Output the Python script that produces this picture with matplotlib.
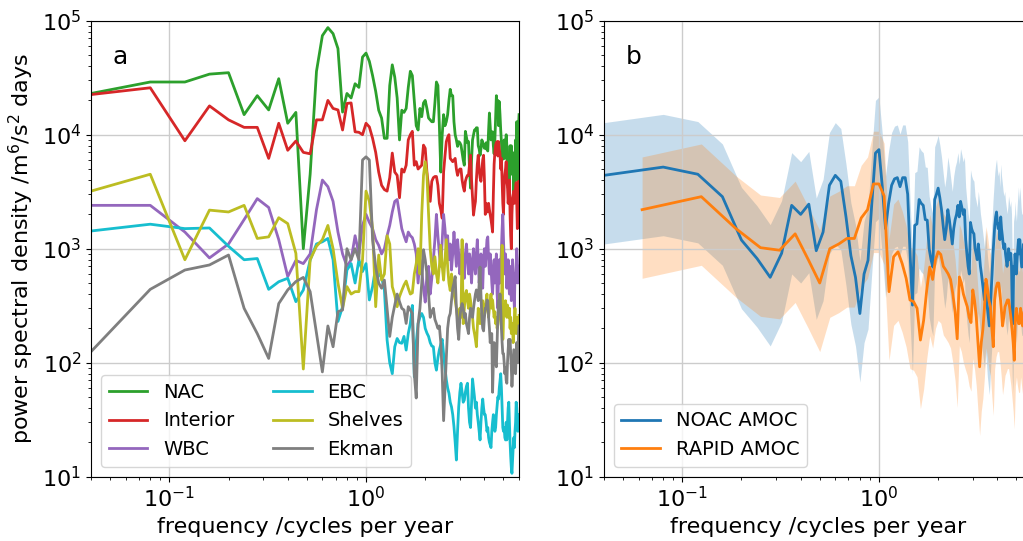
import matplotlib
matplotlib.use("Agg")
import matplotlib.pyplot as plt
import numpy as np

# record lengths (years) of the monthly series -> frequency grids
NOAC_YEARS = 25
RAPID_YEARS = 16

# panel a: power spectral density of transport components
nac = [23000, 29000, 29000, 34000, 35000, 15000, 22000, 16500, 31000, 12600,
       15700, 1000, 4500, 36000, 74000, 87000, 77000, 57000, 15800, 23000,
       21000, 28000, 26000, 48000, 52000, 44000, 33000, 24000, 16400, 14000,
       9300, 9300, 27000, 41000, 32000, 21000, 9000, 16400, 15700, 17000,
       26000, 36000, 33000, 20000, 12000, 11000, 17000, 14400, 19000, 20000,
       17000, 14000, 13500, 13000, 13000, 19000, 29000, 27000, 12000, 4700,
       10000, 15000, 12000, 13000, 15000, 20000, 25000, 22000, 22000, 13000,
       10000, 9000, 7900, 8700, 8500, 8100, 7000, 6000, 5400, 10700,
       9500, 8500, 8700, 5000, 3400, 6000, 9000, 10000, 11000, 11000,
       11500, 11500, 8000, 7500, 6600, 7500, 9000, 8600, 8000, 7600,
       7600, 8500, 7400, 7200, 11000, 15500, 12000, 9000, 10600, 10600,
       8000, 6800, 9000, 14000, 22000, 17000, 20000, 12000, 19500, 15000,
       11000, 8600, 6000, 7500, 6200, 9000, 6200, 8000, 10000, 8000,
       5000, 3400, 6000, 3400, 8000, 5000, 8000, 4500, 7000, 5000,
       3000, 6000, 3000, 9000, 5000, 13000, 7000, 4000, 12000, 15000]

interior = [22500, 25800, 8850, 17900, 13500, 11600, 11600, 6200, 12600, 7300,
            8800, 7000, 6800, 13500, 13500, 20000, 17000, 16500, 11000, 18800,
            19000, 10600, 10500, 10000, 12600, 11700, 9300, 7000, 4700, 3600,
            3300, 3200, 4200, 6900, 4700, 4400, 2800, 5000, 4700, 5400,
            9000, 10000, 10700, 5400, 5800, 5000, 5200, 5400, 8100, 7600,
            4700, 3500, 2600, 3900, 4200, 4300, 4300, 3600, 2500, 2200,
            1850, 4700, 6500, 8700, 9500, 10000, 6200, 6000, 5800, 6000,
            6200, 5000, 4400, 4800, 5000, 5000, 4000, 3500, 3200, 3900,
            4200, 4400, 4400, 5500, 6600, 4000, 2800, 1970, 2300, 2600,
            4000, 5500, 6600, 5000, 4200, 3900, 4800, 6000, 6600, 4000,
            2000, 2500, 2300, 2100, 2500, 2200, 2000, 1800, 1600, 1400,
            3000, 5500, 7000, 8100, 8500, 8700, 6500, 8700, 7500, 6800,
            5000, 6200, 4000, 2500, 2000, 3500, 4500, 5000, 5800, 4000,
            3500, 2500, 3000, 4000, 2000, 1300, 1000, 2000, 2800, 3000,
            3200, 2500, 3000, 3400, 3800, 2500, 1500, 2500, 3900, 3500]

wbc = [2400, 2400, 1400, 830, 1100, 1800, 2750, 2300, 1200, 570,
       790, 740, 900, 2200, 4000, 3500, 2600, 1400, 900, 700,
       800, 1300, 900, 1600, 2000, 1700, 1500, 1200, 1070, 900,
       1000, 1300, 1600, 2100, 2600, 2700, 2000, 1500, 1300, 1150,
       1400, 1300, 1250, 1100, 900, 500, 800, 650, 450, 340,
       600, 700, 400, 550, 800, 1200, 2000, 1300, 900, 700,
       1200, 2000, 1500, 1000, 1300, 800, 1100, 650, 900, 1400,
       1000, 700, 1200, 900, 600, 800, 1000, 700, 550, 900,
       1100, 800, 600, 900, 700, 500, 800, 1000, 700, 600,
       900, 1200, 800, 500, 700, 900, 600, 450, 800, 1000,
       700, 900, 1200, 1270, 800, 600, 900, 700, 500, 400,
       600, 800, 500, 700, 900, 400, 300, 600, 800, 500,
       700, 1000, 1500, 2000, 1200, 800, 600, 900, 700, 450,
       600, 800, 500, 400, 700, 600, 350, 500, 800, 600,
       400, 300, 600, 500, 700, 1000, 800, 500, 600, 700]

ebc = [1430, 1640, 1500, 1520, 1050, 800, 820, 440, 513, 550,
       343, 434, 795, 1100, 1150, 1230, 800, 230, 310, 650,
       740, 500, 800, 630, 740, 355, 465, 690, 600, 560,
       435, 158, 100, 80, 138, 163, 150, 148, 170, 129,
       180, 221, 318, 75, 150, 220, 250, 270, 250, 200,
       182, 170, 150, 140, 138, 100, 86, 110, 130, 145,
       160, 120, 90, 71, 60, 54, 45, 41, 35, 27.5,
       20, 14, 25, 41, 55, 66, 55, 45, 47, 55,
       62, 66, 40, 30, 27, 45, 72, 60, 50, 40,
       45, 35, 30, 25, 21, 30, 40, 48, 40, 35,
       35, 30, 25, 27, 22, 20, 19, 18, 25, 30,
       35, 28, 25, 27, 35, 42, 50, 48, 60, 70,
       80, 60, 40, 27, 25, 27, 22, 21, 30, 21,
       30, 40, 45, 30, 20, 15, 12, 10.7, 14, 18,
       22, 18, 25, 30, 45, 40, 30, 25, 30, 35]

shelves = [3200, 4500, 800, 2180, 2100, 2400, 1230, 1270, 1870, 1660,
           910, 88, 800, 1050, 1200, 1600, 1000, 500, 300, 465,
           400, 420, 420, 800, 3200, 2600, 1500, 310, 880, 530,
           600, 1300, 1100, 465, 390, 310, 380, 430, 480, 520,
           450, 400, 410, 600, 740, 1000, 600, 2000, 4400, 5800,
           4500, 2000, 1000, 700, 600, 850, 600, 500, 700, 1070,
           700, 530, 800, 1200, 700, 500, 430, 600, 500, 400,
           355, 300, 250, 200, 300, 250, 1200, 220, 300, 400,
           430, 350, 300, 400, 350, 290, 250, 200, 180, 160,
           138, 200, 300, 250, 220, 240, 280, 350, 300, 260,
           290, 350, 400, 300, 250, 300, 350, 400, 300, 355,
           300, 250, 280, 220, 250, 200, 215, 250, 300, 400,
           300, 200, 1070, 160, 250, 300, 280, 350, 300, 250,
           320, 280, 250, 300, 200, 250, 180, 220, 200, 150,
           200, 250, 300, 220, 180, 250, 220, 200, 200, 260]

ekman = [125, 440, 650, 720, 880, 300, 180, 109, 330, 435,
         515, 560, 420, 180, 83, 210, 138, 280, 290, 1000,
         800, 1000, 800, 6000, 6400, 6000, 1200, 690, 500, 450,
         530, 300, 170, 250, 320, 400, 343, 300, 290, 221,
         310, 290, 270, 80, 49, 220, 300, 500, 980, 800,
         600, 400, 250, 280, 300, 240, 220, 200, 210, 150,
         80, 31, 60, 110, 200, 250, 270, 350, 450, 500,
         570, 300, 200, 160, 250, 300, 330, 300, 250, 270,
         220, 200, 180, 250, 300, 290, 250, 300, 350, 400,
         435, 400, 350, 500, 690, 400, 250, 200, 190, 250,
         300, 300, 355, 350, 250, 200, 150, 180, 180, 55,
         100, 150, 120, 100, 92, 150, 250, 350, 300, 400,
         300, 200, 150, 120, 120, 100, 80, 90, 70, 66,
         100, 130, 160, 140, 160, 120, 90, 62, 80, 100,
         130, 110, 95, 80, 120, 150, 130, 100, 180, 210]

# panel b: AMOC spectra
noac_amoc = [4400, 5200, 4500, 2860, 1190, 820, 561, 910, 2400, 2000,
             2460, 960, 1400, 3600, 4400, 3900, 1900, 870, 560, 270,
             600, 790, 2500, 6900, 7400, 3500, 1500, 2500, 3600, 4100,
             4200, 3500, 4200, 4200, 3000, 900, 320, 1600, 1650, 2700,
             2500, 2400, 1800, 1780, 1000, 800, 690, 2700, 3000, 3400,
             2800, 2200, 1600, 1200, 1500, 2200, 1800, 1400, 1100, 1500,
             1800, 2000, 2400, 1900, 2600, 2300, 2000, 2200, 1200, 900,
             700, 600, 1700, 1500, 1400, 1350, 1000, 900, 800, 1100,
             900, 700, 600, 500, 420, 355, 500, 400, 300, 250,
             210, 300, 440, 600, 900, 1200, 1600, 1900, 2100, 1700,
             1500, 1660, 1200, 1900, 1500, 1300, 1100, 1000, 1100, 900,
             800, 700, 800, 1000, 900, 800, 910, 700, 300, 220,
             700, 600, 900, 700, 600, 800, 1000, 1200, 900, 1200,
             1000, 800, 690, 700, 900, 1100, 800, 700, 900, 1000,
             800, 700, 900, 1000, 800, 700, 900, 800, 700, 800]

rapid_amoc = [2200, 2860, 1500, 1020, 970, 1350, 800, 500, 1000, 1100,
              1230, 1230, 1860, 2200, 3700, 3700, 2900, 420, 850, 940,
              740, 550, 355, 343, 300, 158, 235, 435, 690, 537,
              800, 940, 890, 700, 650, 600, 537, 400, 280, 162,
              565, 500, 400, 350, 310, 250, 225, 435, 350, 250,
              150, 92, 150, 195, 300, 540, 450, 350, 310, 200,
              138, 355, 450, 500, 500, 400, 300, 210, 250, 310,
              330, 355, 355, 300, 250, 195, 150, 105, 250, 300,
              250, 220, 220, 300, 250, 210, 260, 300, 250, 200,
              220, 250, 280, 210, 230, 250]

# confidence band relative to the estimate
ci_low, ci_high = 0.25, 2.9

series_a = [("NAC", nac, "tab:green"), ("Interior", interior, "tab:red"),
            ("WBC", wbc, "tab:purple"), ("EBC", ebc, "tab:cyan"),
            ("Shelves", shelves, "tab:olive"), ("Ekman", ekman, "tab:gray")]


def main():
    plt.rcParams["font.size"] = 16
    f_noac = np.arange(1, len(nac) + 1) / NOAC_YEARS
    f_rapid = np.arange(1, len(rapid_amoc) + 1) / RAPID_YEARS

    fig = plt.figure(figsize=(10.23, 5.41), dpi=100)
    ax1 = fig.add_axes([0.0890, 0.1189, 0.4184, 0.8428])
    ax2 = fig.add_axes([0.5904, 0.1189, 0.4184, 0.8428])

    for name, vals, col in series_a:
        ax1.loglog(f_noac, vals, color=col, lw=2, label=name)
    ax1.legend(loc="lower left", ncol=2, fontsize=14)
    ax1.set_ylabel("power spectral density /m$^6$/s$^2$ days")
    ax1.text(0.05, 0.905, "a", transform=ax1.transAxes, fontsize=18)

    noac = np.array(noac_amoc)
    rapid = np.array(rapid_amoc)
    ax2.fill_between(f_noac, noac * ci_low, noac * ci_high, color="tab:blue",
                     alpha=0.25, lw=0)
    ax2.fill_between(f_rapid, rapid * ci_low, rapid * ci_high,
                     color="tab:orange", alpha=0.25, lw=0)
    ax2.loglog(f_noac, noac, color="tab:blue", lw=2, label="NOAC AMOC")
    ax2.loglog(f_rapid, rapid, color="tab:orange", lw=2, label="RAPID AMOC")
    ax2.legend(loc="lower left", fontsize=14)
    ax2.text(0.05, 0.905, "b", transform=ax2.transAxes, fontsize=18)

    for ax in (ax1, ax2):
        ax.set_xlim(1 / NOAC_YEARS, 6)
        ax.set_ylim(10, 1e5)
        ax.grid(True, which="major", color="0.8", lw=1)
        ax.set_xlabel("frequency /cycles per year")

    fig.savefig("out.png", dpi=100)
    plt.close(fig)


if __name__ == "__main__":
    main()
